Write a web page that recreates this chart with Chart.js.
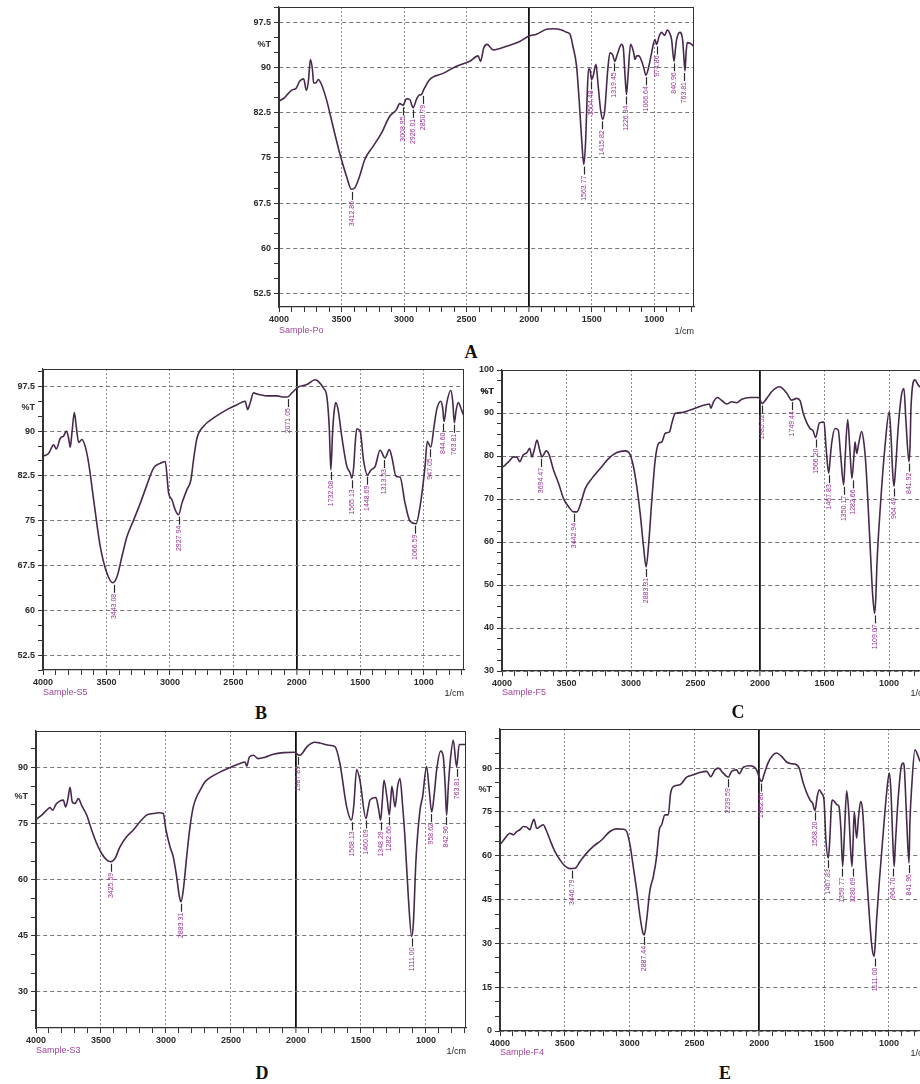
<!DOCTYPE html>
<html>
<head>
<meta charset="utf-8">
<script src="https://cdn.jsdelivr.net/npm/chart.js@4.4.1/dist/chart.umd.min.js"></script>
<style>
  html, body { margin: 0; padding: 0; background: #fff; overflow: hidden; }
  #page { position: relative; width: 920px; height: 1084px; overflow: hidden; background: #fff; }
  #page canvas { position: absolute; }
  .txt { position: absolute; font-family: "Liberation Sans", Arial, sans-serif; white-space: nowrap; line-height: 1; transform: translateY(-50%); }
  .sample { font-size: 9px; color: #a0469c; }
  .unit { font-size: 9px; color: #222; transform: translate(-100%, -50%); }
  .letter { font-family: "Liberation Serif", "Times New Roman", serif; font-weight: bold; font-size: 18px; color: #111; transform: translate(-50%, -50%); }
</style>
</head>
<body>
<div id="page"></div>
<script>
// spectra: [wavenumber 1/cm, %T] (4000 -> right edge)
const specA = [[4000,84.4],[3955,85],[3901,86.2],[3861,86.6],[3835,87.7],[3803,88.1],[3781,86.2],[3765,87.7],[3749,91.3],[3733,89.7],[3723,87.4],[3707,87.4],[3685,88],[3661,87.2],[3621,84.7],[3568,80.2],[3515,75.8],[3461,72],[3421,69.8],[3395,70],[3355,72],[3315,74.7],[3248,76.9],[3181,79.1],[3115,81.9],[3061,83],[3035,84],[3008,83.7],[2981,84.8],[2955,84.7],[2928,83.3],[2901,84.7],[2880,85.4],[2861,85.5],[2843,86.3],[2795,88],[2688,89],[2581,90.2],[2475,91],[2408,91.9],[2389,91],[2363,93.2],[2336,93.8],[2288,92.9],[2181,93.5],[2075,94.3],[2000,95.2],[1941,95.5],[1861,96.3],[1808,96.4],[1740,96.2],[1701,95.8],[1674,95.5],[1650,93.5],[1621,90.2],[1600,84.5],[1580,78],[1563,73.9],[1548,78],[1535,86],[1525,89.7],[1515,89.7],[1501,88],[1488,88.6],[1466,90.5],[1448,86.9],[1429,83],[1413,81.4],[1395,83],[1372,89.5],[1354,92.4],[1333,92.1],[1315,91],[1296,92.1],[1262,93.8],[1248,93.3],[1233,88.5],[1222,85.5],[1210,88.5],[1189,93.8],[1165,92.5],[1154,91.3],[1140,91.9],[1123,91.9],[1100,91],[1085,90],[1066,88.7],[1045,90],[1021,92.4],[994,94.6],[981,93.8],[960,95.2],[941,95.8],[917,95.3],[896,96.2],[875,95.6],[861,94.6],[842,91],[828,93.5],[821,94.6],[795,95.8],[773,94.6],[764,92],[754,89.4],[745,92.5],[736,94.1],[715,94],[701,93.8],[683,93.5]];
const specB = [[4000,85.8],[3955,86.3],[3916,87.7],[3895,87],[3864,88.8],[3837,89.2],[3816,90],[3798,88.8],[3785,87.3],[3772,89.7],[3753,93.1],[3738,90.8],[3719,88.1],[3693,88.6],[3667,87.4],[3640,84.6],[3601,78.5],[3549,70.7],[3496,66.2],[3449,64.6],[3417,65.6],[3378,69],[3339,72.3],[3286,75.1],[3234,77.9],[3181,81],[3129,83.8],[3076,84.6],[3037,84.9],[3010,79.6],[2984,78.5],[2958,76.8],[2932,76],[2906,77.9],[2866,80.2],[2835,81.8],[2814,85.2],[2787,88.8],[2735,90.8],[2656,92.2],[2551,93.6],[2472,94.4],[2407,95],[2388,93.6],[2367,94.8],[2341,96.4],[2315,96.2],[2236,95.9],[2157,95.9],[2105,95.7],[2073,95.7],[2039,96.4],[1987,97.4],[1921,97.8],[1856,98.6],[1829,98.3],[1790,97.2],[1764,95.8],[1745,90.8],[1732,83.5],[1718,90],[1705,93.5],[1693,94.8],[1675,93.6],[1646,89.1],[1606,84.1],[1580,83],[1567,82.1],[1552,84],[1540,88],[1528,90.4],[1501,90],[1475,85.2],[1444,82.7],[1415,83.5],[1383,84.1],[1344,86.8],[1305,85.5],[1271,86.9],[1250,85.5],[1218,82.4],[1187,82.3],[1147,77.9],[1108,74.9],[1061,74.5],[1029,77.4],[990,84.1],[972,88.3],[945,87.3],[919,90.8],[898,93.6],[866,95],[852,94],[840,91.6],[819,94.7],[787,96.8],[772,95],[759,91.4],[745,93.5],[728,94.8],[710,94],[693,93],[683,92.6]];
const specC = [[4000,77.4],[3987,77.6],[3948,78.7],[3910,79.8],[3884,79.7],[3863,78.7],[3837,80.2],[3806,80.8],[3786,81.8],[3768,79.8],[3750,81.4],[3729,83.7],[3708,81.4],[3690,79.8],[3657,81.2],[3639,80.6],[3600,76.7],[3561,73.6],[3523,70.1],[3484,68.2],[3445,67],[3419,67],[3394,68.6],[3355,72.4],[3303,74.8],[3239,77.1],[3174,79.4],[3110,80.8],[3045,81.2],[3012,80.6],[2981,77.5],[2955,72.8],[2929,66.6],[2903,58.9],[2883,54.2],[2865,58.9],[2839,69.7],[2813,79],[2787,82.9],[2761,83.3],[2735,85.3],[2702,85.6],[2684,87.6],[2658,89.9],[2606,90.1],[2542,90.7],[2465,91.5],[2392,92.1],[2382,91.1],[2361,92.6],[2330,93.6],[2297,92.9],[2258,92.1],[2219,92.6],[2181,92.4],[2142,93.2],[2077,93.6],[2010,93.6],[1985,92.2],[1948,93.4],[1909,95],[1850,96.1],[1793,94.6],[1755,93],[1716,93.4],[1690,92.9],[1665,89.9],[1613,86.4],[1590,85.9],[1569,84.3],[1540,87.7],[1504,87.9],[1489,82.2],[1468,76],[1455,80],[1445,83],[1419,86.4],[1394,86],[1375,80],[1352,73.3],[1340,80],[1321,88.5],[1305,82],[1288,74.8],[1275,79],[1264,83.3],[1251,80.6],[1235,83],[1213,85.7],[1195,83],[1179,77.5],[1148,59.7],[1128,48],[1112,43.4],[1103,47],[1095,54.3],[1066,69],[1032,82.2],[999,90.3],[985,84.5],[972,76],[962,72.9],[950,77],[929,86.8],[905,94],[885,95.7],[870,88.4],[846,78.7],[838,82],[830,91.5],[800,97.7],[774,96.5],[760,96]];
const specD = [[4000,76.1],[3956,77.3],[3918,78.6],[3892,79.3],[3872,78.6],[3846,80.2],[3815,81.1],[3790,81.3],[3772,79.5],[3756,81.3],[3738,84.7],[3721,80.8],[3700,80.4],[3674,81.7],[3649,79.9],[3610,77.3],[3572,73.3],[3533,69.7],[3495,67],[3456,65.3],[3426,64.8],[3392,65.7],[3354,68.8],[3303,71.5],[3251,73.3],[3200,75.5],[3149,77.3],[3097,77.7],[3051,77.9],[3021,77.7],[3000,73.3],[2969,68.8],[2944,66.1],[2918,60.8],[2897,55.5],[2885,54.1],[2867,57.2],[2841,66.1],[2815,74.2],[2790,79.5],[2764,82.2],[2738,83.9],[2700,86.2],[2662,87.3],[2585,88.8],[2508,90],[2431,91.1],[2392,91.5],[2379,90.4],[2359,92.8],[2328,93.3],[2290,92.4],[2238,92.8],[2174,93.6],[2097,94],[2008,94.1],[1987,93.5],[1969,93.3],[1944,94.2],[1918,95.5],[1854,96.8],[1815,96.6],[1751,96],[1700,95.6],[1662,91.1],[1610,79.5],[1572,75.9],[1555,80],[1533,89.5],[1508,86.6],[1462,76.4],[1445,79],[1431,81.3],[1385,82],[1365,79],[1349,75.9],[1336,81],[1323,86.6],[1300,82],[1282,77.3],[1270,82],[1262,85],[1238,79.5],[1218,85],[1200,87.1],[1180,80],[1162,71.5],[1135,55],[1110,44.8],[1097,48.3],[1077,65.2],[1046,78.6],[1026,82.2],[995,90.3],[975,84],[956,78.1],[936,83],[918,89.3],[887,94.4],[867,93],[852,85],[841,77.3],[828,85],[815,91.1],[790,97.3],[764,90.2],[744,96.2],[713,96.2],[692,96.2]];
const specE = [[4000,63.7],[3961,66],[3923,67.7],[3897,67.2],[3871,68.3],[3846,68.9],[3820,70],[3794,69.8],[3769,68.9],[3756,70.6],[3738,72.5],[3717,69.4],[3692,70],[3666,70.6],[3645,68.9],[3614,65.4],[3576,61.4],[3537,58.6],[3499,56.5],[3460,55.6],[3422,55.7],[3383,58],[3332,60.9],[3280,63.2],[3216,65.4],[3152,68.3],[3100,69.2],[3049,69.1],[3023,68.3],[2997,63.7],[2972,56.3],[2946,48.3],[2920,39.2],[2900,34],[2887,32.9],[2869,38],[2843,48.3],[2817,52.9],[2792,59.7],[2771,68.9],[2753,70.6],[2728,74],[2702,74],[2684,81.4],[2663,83.7],[2612,84.3],[2560,86.9],[2509,87.7],[2458,88.5],[2406,88.9],[2375,87.1],[2342,89.4],[2316,90],[2278,88.3],[2239,86.9],[2213,88.9],[2175,89.4],[2154,88.1],[2123,90.3],[2072,90.8],[2021,89.4],[1995,86.2],[1982,85.4],[1964,87.7],[1931,91.9],[1892,94.6],[1866,95.2],[1828,94],[1789,92.1],[1751,91.5],[1725,91.4],[1692,90],[1661,84.9],[1609,79.1],[1589,78],[1570,75.5],[1553,80.3],[1537,82.6],[1519,81.4],[1501,79.2],[1486,65.4],[1468,59.2],[1458,64],[1442,78],[1434,79.1],[1398,77.4],[1386,77],[1370,68.9],[1357,56.3],[1344,66.6],[1326,82.2],[1311,75.7],[1285,56.3],[1277,64],[1267,75.1],[1249,66],[1234,73.4],[1218,78.6],[1203,75.7],[1185,62],[1159,44.9],[1134,30],[1115,25.5],[1105,30],[1095,38],[1075,50.6],[1044,67.7],[1018,81.4],[997,88.3],[985,82.6],[967,62],[959,56.3],[951,63.2],[928,80],[902,91.1],[889,91.7],[882,90.6],[864,73.4],[845,57.5],[838,71.2],[824,83.7],[799,96.3],[774,94],[760,92.3]];

// labelled peaks: [wavenumber, %T at the band]
const peaksA = [[3412.86,69.7],[3008.95,83.7],[2926.01,83.3],[2850.79,85.6],[1563.77,73.9],[1504.48,88],[1415.82,81.4],[1319.45,91],[1226.34,85.5],[1066.64,88.7],[974.86,93.8],[840.96,91],[763.81,89.4]];
const peaksB = [[3443.08,64.6],[2927.94,76],[2071.05,95.7],[1732.08,83.5],[1565.13,82.1],[1448.69,82.7],[1313.53,85.5],[1066.59,74.5],[947.05,87.3],[844.60,91.6],[763.81,91.4]];
const peaksC = [[3694.47,79.8],[3442.94,67],[2883.31,54.2],[1985.52,92.2],[1749.44,93],[1566.20,84.3],[1467.83,76],[1350.17,73.3],[1282.66,74.8],[1109.07,43.4],[964.49,72.9],[841.92,78.7]];
const peaksD = [[3425.59,64.8],[2883.31,54.1],[1987.89,93.4],[1568.13,75.9],[1460.09,76.4],[1348.29,75.9],[1282.66,77.3],[1111.00,44.8],[958.62,78.1],[842.96,77.3],[763.81,90.2]];
const peaksE = [[3446.79,55.6],[2887.44,32.9],[2239.59,86.9],[1982.86,85.4],[1568.20,75.5],[1467.83,59.2],[1359.77,56.3],[1280.69,56.3],[1111.00,25.5],[964.70,56.3],[841.96,57.5]];

// y tick labels of each panel
const yMajorA = [52.5, 60, 67.5, 75, 82.5, 90, 97.5];
const yMajorB = [52.5, 60, 67.5, 75, 82.5, 90, 97.5];
const yMajorC = [30, 40, 50, 60, 70, 80, 90, 100];
const yMajorD = [30, 45, 60, 75, 90];
const yMajorE = [0, 15, 30, 45, 60, 75, 90];
const xMajor = [4000, 3500, 3000, 2500, 2000, 1500, 1000];

const sampleNames = ['Sample-Po', 'Sample-S5', 'Sample-F5', 'Sample-S3', 'Sample-F4'];
const panelLetters = ['A', 'B', 'C', 'D', 'E'];

const panels = [
  { spec: specA, peaks: peaksA, yMajor: yMajorA, yStep: 2.5, pctT: 93.75, xMin: 682, yMin: 50.3, yMax: 100,   L: 279, R: 694, T: 7,   B: 307,  sy: 330,  lx: 471, ly: 352 },
  { spec: specB, peaks: peaksB, yMajor: yMajorB, yStep: 2.5, pctT: 93.9,  xMin: 683, yMin: 50,   yMax: 100.4, L: 43,  R: 464, T: 369, B: 670,  sy: 692,  lx: 261, ly: 713 },
  { spec: specC, peaks: peaksC, yMajor: yMajorC, yStep: 2.5, pctT: 95,    xMin: 683, yMin: 30,   yMax: 100,   L: 502, R: 930, T: 370, B: 671,  sy: 692,  lx: 738, ly: 712 },
  { spec: specD, peaks: peaksD, yMajor: yMajorD, yStep: 5,   pctT: 82.2,  xMin: 692, yMin: 20.3, yMax: 99.8,  L: 36,  R: 466, T: 731, B: 1028, sy: 1050, lx: 262, ly: 1073 },
  { spec: specE, peaks: peaksE, yMajor: yMajorE, yStep: 5,   pctT: 82.6,  xMin: 683, yMin: 0,    yMax: 103.4, L: 500, R: 930, T: 729, B: 1031, sy: 1052, lx: 725, ly: 1073 }
];

const LINE = '#47294b';
const FONT = { family: '"Liberation Sans", Arial, sans-serif', size: 9, weight: 'bold' };
const page = document.getElementById('page');

function addText(cls, txt, x, y) {
  const d = document.createElement('div');
  d.className = 'txt ' + cls;
  d.textContent = txt;
  d.style.left = x + 'px';
  d.style.top = y + 'px';
  page.appendChild(d);
}

function makePanel(p, i) {
  const padTop = 10, padRight = 12, yW = 40, xH = 24;
  const cv = document.createElement('canvas');
  const w = p.R - p.L + yW + padRight;
  const h = p.B - p.T + padTop + xH;
  cv.width = w; cv.height = h;
  cv.style.width = w + 'px'; cv.style.height = h + 'px';
  cv.style.left = (p.L - yW) + 'px';
  cv.style.top = (p.T - padTop) + 'px';
  page.appendChild(cv);

  // tick positions: minor every 100 on x, every yStep on y
  const xt = [];
  for (let v = Math.ceil(p.xMin / 100) * 100; v <= 4000; v += 100) xt.push(v);
  const yt = [];
  for (let v = Math.ceil(p.yMin / p.yStep) * p.yStep; v <= p.yMax + 1e-9; v += p.yStep) yt.push(+v.toFixed(2));
  p.yMajor.forEach(v => { if (!yt.includes(v)) yt.push(v); });
  yt.push(p.pctT);
  yt.sort((a, b) => a - b);

  const marks = {
    id: 'marks' + i,
    afterDatasetsDraw(chart) {
      const { ctx, chartArea: a, scales: { x, y } } = chart;
      ctx.save();
      ctx.beginPath();
      ctx.rect(a.left, a.top, a.right - a.left, a.bottom - a.top);
      ctx.clip();
      ctx.font = '7px "Liberation Sans", Arial, sans-serif';
      p.peaks.forEach(([wn, t]) => {
        const px = Math.round(x.getPixelForValue(wn)) + 0.5;
        const py = y.getPixelForValue(t);
        ctx.strokeStyle = '#2a2a2a';
        ctx.lineWidth = 1.2;
        ctx.beginPath();
        ctx.moveTo(px, py + 2);
        ctx.lineTo(px, py + 10);
        ctx.stroke();
        ctx.save();
        ctx.translate(px, py + 11);
        ctx.rotate(-Math.PI / 2);
        ctx.fillStyle = '#962f90';
        ctx.textAlign = 'right';
        ctx.textBaseline = 'middle';
        ctx.fillText(wn.toFixed(2), 0, 0);
        ctx.restore();
      });
      ctx.restore();
    },
    afterDraw(chart) {
      const { ctx, chartArea: a } = chart;
      ctx.save();
      ctx.strokeStyle = '#333';
      ctx.lineWidth = 1;
      ctx.strokeRect(a.left + 0.5, a.top + 0.5, a.right - a.left - 1, a.bottom - a.top - 1);
      ctx.restore();
    }
  };

  new Chart(cv, {
    type: 'line',
    data: {
      datasets: [{
        data: p.spec.map(([x, y]) => ({ x, y })),
        borderColor: LINE,
        borderWidth: 1.6,
        pointRadius: 0,
        cubicInterpolationMode: 'monotone',
        fill: false
      }]
    },
    options: {
      responsive: false,
      animation: false,
      devicePixelRatio: 1,
      layout: { padding: { top: padTop, right: padRight, left: 0, bottom: 0 } },
      plugins: { legend: { display: false }, tooltip: { enabled: false } },
      scales: {
        x: {
          type: 'linear', reverse: true, min: p.xMin, max: 4000,
          afterBuildTicks: s => { s.ticks = xt.map(v => ({ value: v })); },
          afterFit: s => { s.height = xH; },
          ticks: {
            autoSkip: false, maxRotation: 0, minRotation: 0, padding: 2, font: FONT, color: '#2a2a2a',
            callback: v => xMajor.includes(v) ? String(v) : ''
          },
          grid: {
            color: c => !c.tick ? 'rgba(0,0,0,0)' : c.tick.value === 2000 ? '#111' : (c.tick.value % 500 === 0 ? '#8c8c8c' : 'rgba(0,0,0,0)'),
            lineWidth: c => c.tick && c.tick.value === 2000 ? 1.8 : 1,
            tickColor: '#333', tickLength: 5, tickWidth: 1
          },
          border: { color: '#333', width: 1.2, dash: c => (c.tick && c.tick.value === 2000) ? [] : [2, 2] }
        },
        y: {
          type: 'linear', min: p.yMin, max: p.yMax,
          afterBuildTicks: s => { s.ticks = yt.map(v => ({ value: v })); },
          afterFit: s => { s.width = yW; },
          ticks: {
            autoSkip: false, padding: 3, font: FONT, color: '#2a2a2a',
            callback: v => p.yMajor.includes(v) ? String(v) : (v === p.pctT ? '%T' : '')
          },
          grid: {
            color: c => c.tick && p.yMajor.includes(c.tick.value) ? '#777' : 'rgba(0,0,0,0)',
            tickColor: c => c.tick && c.tick.value === p.pctT ? 'rgba(0,0,0,0)' : '#333',
            tickLength: 5, tickWidth: 1
          },
          border: { color: '#333', width: 1.2, dash: [4, 3] }
        }
      }
    },
    plugins: [marks]
  });

  addText('sample', sampleNames[i], p.L, p.sy);
  addText('unit', '1/cm', p.R, p.sy + 1);
  addText('letter', panelLetters[i], p.lx, p.ly);
}

panels.forEach(makePanel);
</script>
</body>
</html>
